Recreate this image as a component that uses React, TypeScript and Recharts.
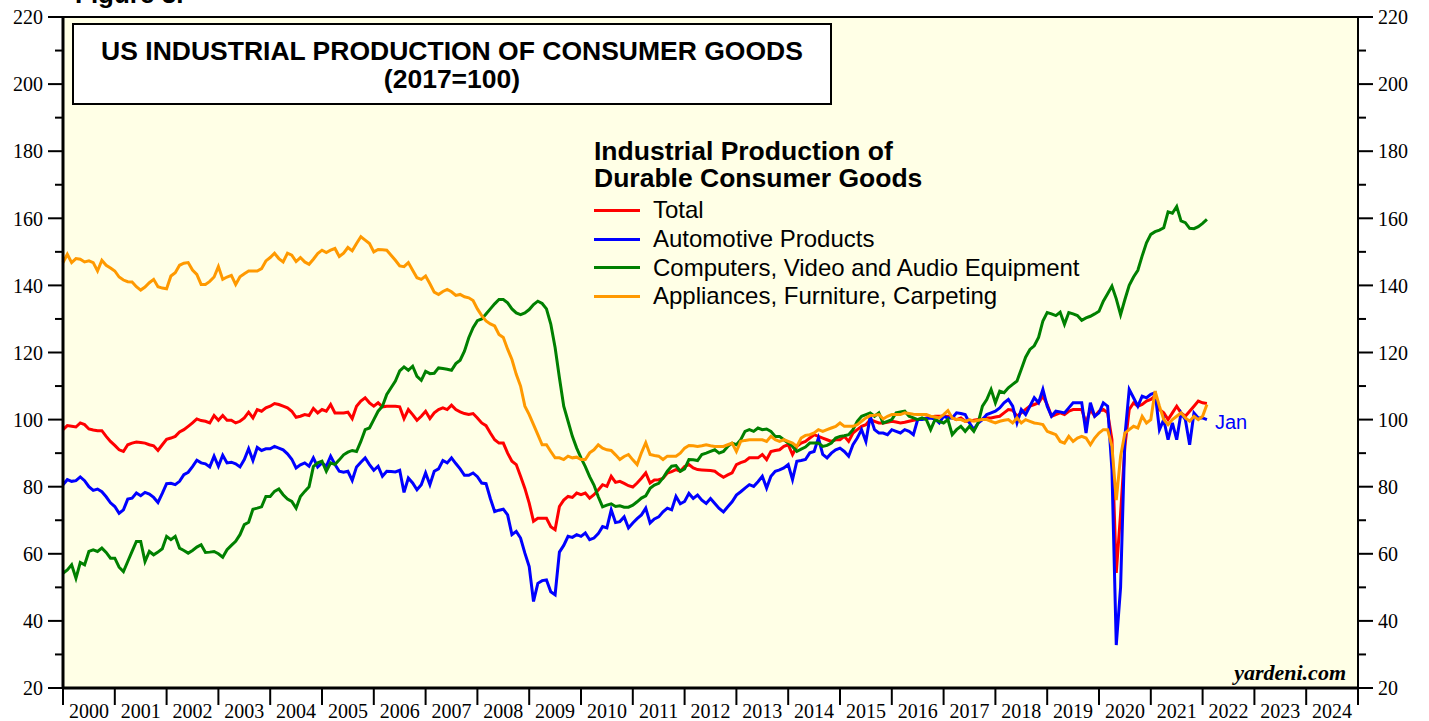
import React from 'react';
import { LineChart, Line, XAxis, YAxis, ReferenceArea, Legend } from 'recharts';

// ---------- categories / ticks ----------
const YEAR_TICKS = [2000, 2001, 2002, 2003, 2004, 2005, 2006, 2007, 2008, 2009, 2010, 2011, 2012,
  2013, 2014, 2015, 2016, 2017, 2018, 2019, 2020, 2021, 2022, 2023, 2024, 2025];
const Y_TICKS = [20, 30, 40, 50, 60, 70, 80, 90, 100, 110, 120, 130, 140, 150, 160, 170, 180, 190, 200, 210, 220];

// Monthly values, Dec 1999 .. Jan 2022 (plotted at month end)
const TOTAL = [
  97.0,
  98.2, 98.0, 97.8, 99.0, 98.5, 97.2, 96.9, 96.7, 96.7, 95.0, 93.5, 92.3, // 2000
  91.0, 90.5, 92.5, 93.0, 93.3, 93.2, 93.0, 92.5, 92.2, 90.8, 92.5, 94.1, // 2001
  94.5, 95.0, 96.3, 97.0, 98.0, 99.0, 100.2, 99.7, 99.5, 99.0, 101.2, 99.8, // 2002
  101.2, 99.8, 99.8, 99.0, 99.5, 100.5, 102.2, 100.5, 103.0, 102.5, 103.5, 104.0, // 2003
  104.8, 104.5, 104.0, 103.5, 102.5, 100.7, 101.0, 101.5, 101.2, 103.3, 102.0, 103.0, // 2004
  102.5, 104.5, 102.0, 102.0, 102.0, 102.2, 100.3, 104.0, 105.5, 106.5, 105.0, 104.0, // 2005
  105.0, 103.8, 104.0, 104.0, 104.0, 103.8, 100.3, 103.0, 101.5, 99.8, 101.0, 102.5, // 2006
  100.3, 102.0, 103.0, 103.5, 103.0, 104.3, 103.0, 102.3, 101.8, 101.5, 101.8, 100.5, // 2007
  99.0, 98.2, 96.0, 94.0, 93.0, 93.0, 90.0, 87.6, 86.6, 83.1, 79.5, 75.1, // 2008
  69.7, 70.6, 70.6, 70.6, 68.1, 67.2, 74.1, 76.0, 77.1, 76.8, 78.1, 77.6, // 2009
  78.1, 76.6, 77.6, 79.0, 80.6, 80.1, 83.1, 81.3, 81.6, 81.0, 80.3, 79.9, // 2010
  81.1, 82.5, 84.1, 81.1, 82.0, 82.1, 82.5, 84.1, 84.5, 85.1, 84.6, 86.0, // 2011
  86.6, 85.6, 85.1, 85.0, 84.9, 84.8, 84.6, 83.6, 82.8, 83.5, 84.1, 86.6, // 2012
  87.2, 87.6, 88.6, 88.6, 88.6, 89.6, 88.1, 90.5, 90.8, 91.0, 92.0, 92.5, // 2013
  89.6, 92.0, 93.0, 93.5, 94.5, 95.5, 95.0, 94.5, 94.0, 93.5, 94.0, 94.0, // 2014
  95.0, 93.5, 96.0, 97.0, 98.0, 98.5, 100.0, 99.5, 99.0, 99.0, 99.2, 99.5, // 2015
  99.3, 99.0, 99.2, 99.5, 99.8, 100.0, 100.2, 100.5, 100.7, 101.0, 101.0, 101.0, // 2016
  101.0, 100.5, 100.0, 100.5, 99.5, 99.5, 99.8, 100.0, 100.2, 100.5, 100.5, 100.8, // 2017
  101.0, 102.0, 103.0, 102.8, 101.0, 102.0, 103.0, 104.0, 104.5, 105.0, 107.0, 104.5, // 2018
  101.0, 101.5, 102.0, 101.5, 102.5, 103.0, 103.0, 103.0, 99.0, 103.0, 101.0, 102.5, // 2019
  103.0, 102.0, 94.0, 54.3, 72.0, 92.0, 103.0, 105.0, 104.0, 104.5, 105.5, 106.0, // 2020
  107.0, 103.0, 102.0, 100.0, 102.0, 104.0, 102.0, 101.0, 102.5, 104.0, 105.5, 105.0, // 2021
  104.8,
];

const AUTO = [
  80.6,
  82.1, 81.6, 81.8, 82.9, 81.8, 80.0, 78.9, 79.3, 78.5, 77.0, 75.2, 74.1, // 2000
  72.1, 73.1, 76.3, 76.6, 78.1, 77.3, 78.3, 77.8, 76.8, 75.3, 78.0, 80.9, // 2001
  81.0, 80.6, 81.6, 83.6, 84.3, 86.0, 87.9, 87.1, 86.8, 85.9, 89.1, 86.1, // 2002
  89.4, 87.1, 87.3, 86.8, 85.9, 88.1, 91.3, 87.8, 91.7, 90.8, 91.3, 91.3, // 2003
  92.0, 91.5, 91.0, 89.8, 88.2, 85.6, 86.5, 87.1, 86.1, 88.6, 85.9, 87.1, // 2004
  86.1, 89.1, 86.6, 84.6, 84.3, 84.6, 81.9, 85.9, 87.3, 88.6, 86.6, 84.9, // 2005
  86.1, 83.1, 84.6, 84.5, 84.4, 84.9, 78.3, 82.6, 81.1, 79.1, 80.6, 84.1, // 2006
  80.6, 84.6, 85.3, 87.8, 87.1, 88.6, 86.9, 85.3, 83.4, 83.4, 84.1, 83.0, // 2007
  81.1, 80.9, 76.5, 72.6, 73.0, 73.3, 71.6, 65.7, 66.7, 64.7, 60.2, 56.2, // 2008
  45.8, 51.2, 52.0, 52.2, 48.7, 47.8, 60.5, 62.5, 65.2, 64.9, 65.7, 65.2, // 2009
  66.2, 64.2, 64.7, 66.0, 68.1, 67.7, 73.1, 69.3, 69.6, 71.0, 67.7, 69.2, // 2010
  70.5, 71.6, 73.6, 69.2, 70.4, 71.0, 72.5, 73.6, 73.1, 77.1, 74.9, 75.6, // 2011
  78.0, 76.5, 77.5, 76.0, 75.0, 76.5, 75.0, 73.5, 72.5, 74.0, 75.5, 77.5, // 2012
  78.5, 79.6, 80.6, 80.1, 81.5, 83.1, 79.6, 83.1, 84.6, 85.0, 85.6, 86.6, // 2013
  82.1, 87.6, 87.8, 88.1, 90.1, 90.5, 94.5, 89.6, 88.6, 90.0, 91.0, 91.5, // 2014
  90.5, 89.1, 92.5, 94.5, 97.0, 93.5, 101.0, 97.0, 96.0, 96.0, 95.5, 97.0, // 2015
  96.5, 96.0, 97.0, 96.5, 95.5, 100.0, 100.0, 100.3, 100.5, 100.2, 99.0, 101.0, // 2016
  100.5, 100.5, 102.0, 101.8, 101.5, 99.0, 97.0, 99.0, 100.0, 101.5, 102.0, 102.5, // 2017
  103.5, 105.0, 106.0, 104.0, 99.0, 103.0, 101.5, 104.0, 106.5, 105.0, 109.0, 104.0, // 2018
  101.0, 102.5, 102.3, 102.0, 103.5, 105.0, 105.0, 105.0, 96.0, 105.0, 101.0, 102.0, // 2019
  105.0, 104.0, 85.0, 32.8, 50.0, 95.0, 109.0, 106.5, 104.0, 107.0, 106.5, 107.5, // 2020
  108.0, 97.0, 100.0, 94.0, 99.0, 94.0, 102.0, 100.0, 92.5, 102.0, 100.5, 100.5, // 2021
  100.0,
];

const COMP = [
  54.2,
  55.2, 56.7, 52.7, 57.4, 56.7, 60.7, 61.2, 60.7, 61.7, 60.4, 58.7, 58.7, // 2000
  56.0, 54.7, 57.7, 60.7, 63.7, 63.7, 57.7, 60.7, 59.7, 60.5, 61.5, 65.2, // 2001
  64.2, 65.2, 61.7, 61.0, 60.2, 61.0, 62.0, 62.7, 60.4, 60.5, 60.7, 60.0, // 2002
  59.0, 61.2, 62.5, 63.7, 65.7, 68.7, 69.4, 73.3, 73.6, 74.0, 77.1, 77.1, // 2003
  78.6, 79.3, 77.6, 76.3, 75.6, 73.6, 77.1, 78.6, 80.0, 86.0, 87.1, 87.6, // 2004
  84.6, 87.1, 86.6, 88.0, 89.5, 90.3, 90.8, 90.5, 93.5, 97.0, 97.5, 100.0, // 2005
  102.5, 104.0, 107.5, 109.5, 111.5, 114.5, 115.7, 114.7, 115.9, 112.9, 111.7, 114.4, // 2006
  113.7, 113.8, 115.4, 115.2, 115.0, 114.7, 116.7, 117.7, 120.4, 124.4, 127.4, 129.5, // 2007
  130.0, 131.5, 133.0, 134.5, 135.8, 135.8, 134.8, 133.0, 131.8, 131.3, 131.8, 132.8, // 2008
  134.3, 135.3, 134.6, 133.0, 128.5, 121.5, 112.5, 104.0, 99.5, 95.0, 91.5, 88.6, // 2009
  86.0, 83.0, 80.5, 77.0, 74.0, 74.5, 74.9, 74.1, 74.3, 73.9, 73.9, 74.5, // 2010
  75.5, 76.6, 77.3, 79.5, 80.5, 81.0, 82.6, 84.6, 86.1, 86.3, 84.6, 85.3, // 2011
  88.1, 88.0, 87.8, 89.6, 90.0, 90.5, 91.0, 90.0, 90.5, 92.0, 93.0, 92.5, // 2012
  94.0, 96.5, 97.0, 96.5, 97.5, 97.0, 97.2, 96.5, 95.0, 95.0, 94.0, 93.0, // 2013
  92.0, 90.5, 91.2, 91.8, 93.0, 93.0, 93.0, 92.0, 92.3, 93.0, 94.5, 95.0, // 2014
  95.2, 95.5, 97.0, 99.5, 101.0, 101.5, 102.0, 101.0, 102.0, 99.0, 99.5, 100.0, // 2015
  102.0, 102.3, 102.5, 101.0, 100.5, 100.0, 100.5, 100.0, 97.0, 100.0, 99.5, 99.0, // 2016
  100.0, 95.5, 97.0, 98.0, 96.5, 98.0, 96.5, 99.0, 104.0, 106.0, 109.0, 105.0, // 2017
  108.5, 108.0, 109.5, 110.5, 111.5, 115.0, 118.6, 120.9, 122.0, 124.5, 129.4, 131.9, // 2018
  131.5, 131.0, 132.0, 128.4, 131.9, 131.5, 131.0, 129.6, 130.3, 130.8, 131.5, 132.3, // 2019
  135.3, 137.5, 139.8, 136.0, 131.3, 135.8, 140.0, 142.5, 144.5, 148.8, 152.7, 155.2, // 2020
  156.0, 156.5, 157.2, 161.9, 161.5, 163.5, 159.2, 158.7, 157.0, 156.9, 157.5, 158.5, // 2021
  159.7,
];

const APPL = [
  146.8,
  149.3, 146.8, 148.0, 147.8, 147.0, 147.3, 146.8, 144.3, 147.5, 146.0, 145.2, 144.3, // 2000
  142.5, 141.6, 141.1, 141.0, 139.6, 138.6, 139.5, 140.8, 141.8, 139.6, 139.2, 139.0, // 2001
  142.8, 143.8, 146.0, 146.6, 146.8, 144.6, 143.3, 140.3, 140.3, 141.2, 142.5, 145.6, // 2002
  141.8, 142.5, 143.0, 140.3, 142.6, 143.5, 144.3, 144.3, 144.3, 145.0, 147.3, 148.3, // 2003
  149.6, 148.0, 147.0, 149.6, 149.0, 147.1, 148.3, 147.0, 146.3, 147.8, 149.5, 150.5, // 2004
  149.8, 150.5, 151.0, 148.6, 149.6, 151.3, 150.3, 152.5, 154.5, 153.5, 152.5, 150.0, // 2005
  150.7, 150.6, 150.5, 149.0, 147.5, 145.8, 145.6, 146.8, 144.5, 142.3, 141.8, 142.8, // 2006
  140.5, 138.0, 137.3, 138.2, 138.8, 138.1, 137.0, 137.3, 136.6, 136.3, 135.5, 133.0, // 2007
  131.0, 129.4, 128.5, 127.9, 125.4, 124.5, 121.0, 117.9, 113.5, 110.0, 104.0, 101.5, // 2008
  98.5, 95.5, 92.5, 92.5, 90.5, 88.6, 88.6, 88.1, 89.1, 88.6, 88.8, 88.1, // 2009
  88.1, 90.1, 91.0, 92.5, 91.5, 91.0, 90.8, 89.5, 88.1, 89.0, 89.6, 88.0, // 2010
  86.6, 90.1, 93.1, 89.6, 89.3, 89.1, 88.1, 89.1, 89.1, 89.1, 90.0, 91.5, // 2011
  92.3, 92.2, 92.0, 92.2, 92.5, 92.2, 92.0, 92.0, 92.0, 92.5, 93.0, 90.5, // 2012
  93.5, 93.8, 94.0, 94.0, 94.0, 94.0, 93.5, 95.0, 94.0, 93.5, 94.0, 93.5, // 2013
  93.0, 92.0, 94.5, 95.3, 95.5, 96.0, 97.0, 96.5, 97.0, 97.5, 98.0, 99.0, // 2014
  98.0, 98.0, 98.0, 98.5, 99.5, 100.5, 101.2, 101.3, 101.5, 100.2, 101.0, 101.5, // 2015
  101.5, 101.5, 102.0, 101.8, 101.6, 101.5, 101.5, 101.5, 101.0, 100.8, 100.5, 101.5, // 2016
  102.7, 100.5, 100.0, 100.0, 99.5, 100.0, 99.5, 99.8, 100.0, 100.0, 99.5, 99.0, // 2017
  99.5, 99.8, 100.0, 99.0, 100.5, 99.0, 100.0, 99.5, 99.0, 98.8, 98.5, 96.5, // 2018
  96.0, 95.5, 93.5, 93.0, 95.0, 93.5, 94.5, 95.0, 94.5, 92.5, 94.5, 96.0, // 2019
  97.0, 97.0, 92.0, 76.0, 89.0, 96.0, 97.0, 98.0, 97.5, 101.0, 99.0, 100.0, // 2020
  108.5, 104.0, 100.0, 98.5, 100.0, 101.0, 102.0, 100.5, 99.5, 101.0, 100.0, 101.0, // 2021
  104.5,
];

const SERIES_ORDER = ['Total', 'Automotive Products', 'Computers, Video and Audio Equipment', 'Appliances, Furniture, Carpeting'];

const data = TOTAL.map((v, i) => ({
  t: 2000 + i / 12,
  total: v,
  auto: AUTO[i],
  comp: COMP[i],
  appl: APPL[i],
}));
const LAST = data.length - 1;

// ---------- styles ----------
const SANS = "'Liberation Sans', Arial, Helvetica, sans-serif";
const SERIF = "'Liberation Serif', 'Times New Roman', serif";
const BG = '#FFFFE6';
const W = 1429;
const H = 721;
const M_TOP = 17;
const LEFT_W = 63;
const RIGHT_W = 71;
const BOTTOM_H = 33;
const YEAR_PX = (W - LEFT_W - RIGHT_W) / (YEAR_TICKS.length - 1);
const TS = 15;
const TM = 5;

const LeftTick = (props: any) => {
  const { x, y, payload } = props;
  const ax = x + TS + TM;
  const major = payload.value % 20 === 0;
  return (
    <g>
      <line x1={ax - (major ? 15 : 8)} x2={ax} y1={y} y2={y} stroke="#000" strokeWidth={2} />
      {major && (
        <text x={ax - 20} y={y} dy="0.36em" textAnchor="end" fontFamily={SERIF} fontSize={20} fill="#000">
          {payload.value}
        </text>
      )}
    </g>
  );
};

const RightTick = (props: any) => {
  const { x, y, payload } = props;
  const ax = x - TS - TM;
  const major = payload.value % 20 === 0;
  return (
    <g>
      <line x1={ax} x2={ax + (major ? 15 : 8)} y1={y} y2={y} stroke="#000" strokeWidth={2} />
      {major && (
        <text x={ax + 20} y={y} dy="0.36em" textAnchor="start" fontFamily={SERIF} fontSize={20} fill="#000">
          {payload.value}
        </text>
      )}
    </g>
  );
};

const YearTick = (props: any) => {
  const { x, y, payload } = props;
  if (payload.value >= 2025) return <g />;
  return (
    <text x={x + YEAR_PX / 2} y={y + 11} textAnchor="middle" fontFamily={SERIF} fontSize={20} fill="#000">
      {payload.value}
    </text>
  );
};

const JanLabel = (props: any) => {
  const { x, y, index } = props;
  if (index !== LAST) return null;
  return (
    <text x={x + 8} y={y + 2} dy="0.36em" fill="#0000FF" fontFamily={SANS} fontSize={20}>
      Jan
    </text>
  );
};

const renderLegend = (props: any) => {
  const items = (props.payload || [])
    .filter((p: any) => SERIES_ORDER.includes(p.value))
    .slice()
    .sort((a: any, b: any) => SERIES_ORDER.indexOf(a.value) - SERIES_ORDER.indexOf(b.value));
  return (
    <div style={{ fontFamily: SANS, color: '#000', textAlign: 'left' }}>
      <div style={{ fontWeight: 700, fontSize: 26.5, lineHeight: '27px', whiteSpace: 'nowrap' }}>
        Industrial Production of
        <br />
        Durable Consumer Goods
      </div>
      <div style={{ marginTop: 4 }}>
        {items.map((p: any) => (
          <div key={p.value} style={{ display: 'flex', alignItems: 'center', height: 28.7 }}>
            <span style={{ display: 'inline-block', width: 46, height: 3, background: p.color, marginRight: 13 }} />
            <span style={{ fontSize: 24, whiteSpace: 'nowrap' }}>{p.value}</span>
          </div>
        ))}
      </div>
    </div>
  );
};

export default function App() {
  return (
    <div style={{ position: 'absolute', left: 0, top: 0, width: W, height: H, background: '#fff' }}>
      <LineChart width={W} height={H} data={data} margin={{ top: M_TOP, right: 0, bottom: 0, left: 0 }}>
        <ReferenceArea
          x1={2000}
          x2={2025}
          y1={20}
          y2={220}
          fill={BG}
          fillOpacity={1}
          stroke="#000"
          strokeWidth={2}
        />
        <XAxis
          dataKey="t"
          type="number"
          domain={[2000, 2025]}
          ticks={YEAR_TICKS}
          interval={0}
          height={BOTTOM_H}
          tickSize={17}
          tickMargin={2}
          axisLine={{ stroke: '#000', strokeWidth: 3 }}
          tickLine={{ stroke: '#000', strokeWidth: 2 }}
          tick={<YearTick />}
        />
        <YAxis
          type="number"
          domain={[20, 220]}
          ticks={Y_TICKS}
          interval={0}
          width={LEFT_W}
          tickSize={TS}
          tickMargin={TM}
          axisLine={{ stroke: '#000', strokeWidth: 3 }}
          tickLine={false}
          tick={<LeftTick />}
        />
        <YAxis
          yAxisId="right"
          orientation="right"
          type="number"
          domain={[20, 220]}
          ticks={Y_TICKS}
          interval={0}
          width={RIGHT_W}
          tickSize={TS}
          tickMargin={TM}
          axisLine={{ stroke: '#000', strokeWidth: 2 }}
          tickLine={false}
          tick={<RightTick />}
        />
        <Legend
          content={renderLegend}
          verticalAlign="middle"
          align="center"
          wrapperStyle={{ left: 594, top: 138, width: 560 }}
        />
        <Line
          yAxisId="right"
          dataKey="total"
          stroke="none"
          strokeWidth={0}
          dot={false}
          activeDot={false}
          legendType="none"
          isAnimationActive={false}
        />
        <Line
          name="Total"
          dataKey="total"
          stroke="#FF0000"
          strokeWidth={3}
          dot={false}
          type="linear"
          isAnimationActive={false}
        />
        <Line
          name="Automotive Products"
          dataKey="auto"
          stroke="#0000FF"
          strokeWidth={3}
          dot={false}
          type="linear"
          isAnimationActive={false}
          label={JanLabel}
        />
        <Line
          name="Computers, Video and Audio Equipment"
          dataKey="comp"
          stroke="#008000"
          strokeWidth={3}
          dot={false}
          type="linear"
          isAnimationActive={false}
        />
        <Line
          name="Appliances, Furniture, Carpeting"
          dataKey="appl"
          stroke="#FF9900"
          strokeWidth={3}
          dot={false}
          type="linear"
          isAnimationActive={false}
        />
      </LineChart>
      <svg
        width={W}
        height={H}
        style={{ position: 'absolute', left: 0, top: 0, pointerEvents: 'none' }}
      >
        <text x={75} y={3} fontFamily={SANS} fontWeight={700} fontSize={26} fill="#000">
          Figure 3.
        </text>
        <rect x={73} y={24} width={758} height={80} fill="#fff" stroke="#000" strokeWidth={2} />
        <text x={452} y={60} textAnchor="middle" fontFamily={SANS} fontWeight={700} fontSize={26.5} fill="#000">
          US INDUSTRIAL PRODUCTION OF CONSUMER GOODS
        </text>
        <text x={452} y={88} textAnchor="middle" fontFamily={SANS} fontWeight={700} fontSize={26.5} fill="#000">
          (2017=100)
        </text>
        <text
          x={1346}
          y={680}
          textAnchor="end"
          fontFamily={SERIF}
          fontWeight={700}
          fontStyle="italic"
          fontSize={22}
          fill="#000"
        >
          yardeni.com
        </text>
      </svg>
    </div>
  );
}
